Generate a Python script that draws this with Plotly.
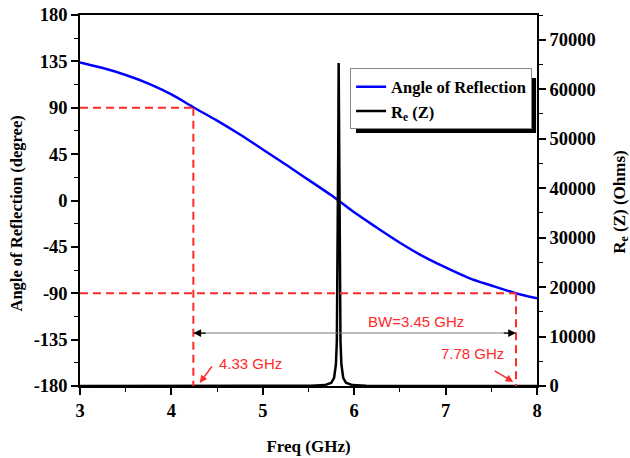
import plotly.graph_objects as go

# Angle of reflection vs frequency
freq_angle = [3.0, 3.25, 3.5, 3.75, 4.0, 4.25, 4.5, 4.75, 5.0, 5.25, 5.5, 5.75,
              6.0, 6.25, 6.5, 6.75, 7.0, 7.25, 7.5, 7.75, 8.0]
angle_deg = [134, 128.5, 121.8, 113.5, 103, 90, 77.5, 64, 49.5, 35, 20, 5,
             -11.5, -26.5, -41, -54, -65, -75, -82.5, -89.5, -95]

# Real part of impedance (narrow resonance)
freq_re = [3.0, 5.4, 5.53, 5.68, 5.75, 5.78, 5.80, 5.81, 5.82, 5.825, 5.83,
           5.835, 5.84, 5.85, 5.86, 5.88, 5.91, 5.98, 6.13, 8.0]
re_z = [10, 30, 46, 185, 650, 1630, 4350, 9000, 25500, 47000, 65300,
        47000, 25500, 9000, 4350, 1630, 650, 185, 46, 10]

# Axis ticks
angle_ticks = [-180, -135, -90, -45, 0, 45, 90, 135, 180]
angle_ticktext = ["-180", "-135", "-90", "-45", "0", "45", "90", "135", "180"]
re_ticks = [0, 10000, 20000, 30000, 40000, 50000, 60000, 70000]
re_ticktext = ["0", "10000", "20000", "30000", "40000", "50000", "60000", "70000"]

# Bandwidth markers
f_low, f_high = 4.24, 7.77
angle_levels = [90, -90]
bw_arrow_angle = -128.6
label_bw = "BW=3.45 GHz"
label_low = "4.33 GHz"
label_high = "7.78 GHz"

red = "#ff2a2a"
serif = "Liberation Serif"
sans = "Liberation Sans"

fig = go.Figure()
fig.add_trace(go.Scatter(x=freq_angle, y=angle_deg, mode="lines", line=dict(color="#0000ff", width=2.5, shape="spline"),
                         name="Angle of Reflection", yaxis="y"))
fig.add_trace(go.Scatter(x=freq_re, y=re_z, mode="lines", line=dict(color="black", width=2.5),
                         name="R<sub>e</sub> (Z)", yaxis="y2"))

dash = dict(color=red, width=2, dash="8px,5px")
fig.add_shape(type="line", xref="x", yref="y", x0=3, x1=f_low, y0=angle_levels[0], y1=angle_levels[0], line=dash)
fig.add_shape(type="line", xref="x", yref="y", x0=f_low, x1=f_low, y0=angle_levels[0], y1=-180, line=dash)
fig.add_shape(type="line", xref="x", yref="y", x0=3, x1=f_high, y0=angle_levels[1], y1=angle_levels[1], line=dash)
fig.add_shape(type="line", xref="x", yref="y", x0=f_high, x1=f_high, y0=angle_levels[1], y1=-180, line=dash)
fig.add_shape(type="line", xref="x", yref="y", x0=f_low, x1=f_high, y0=bw_arrow_angle, y1=bw_arrow_angle,
              line=dict(color="#777777", width=1))

# legend shadow
fig.add_shape(type="rect", xref="paper", yref="paper", x0=0.604, x1=0.998, y0=0.682, y1=0.830,
              fillcolor="black", line=dict(width=0), layer="above")

# double arrow heads
for tip, tail in [(f_low, f_low + 0.15), (f_high, f_high - 0.15)]:
    fig.add_annotation(x=tip, y=bw_arrow_angle, ax=tail, ay=bw_arrow_angle, axref="x", ayref="y",
                       xref="x", yref="y", showarrow=True, arrowhead=2, arrowsize=1.3, arrowwidth=1.2,
                       arrowcolor="black", text="")

fig.add_annotation(x=6.68, y=-117.5, text=label_bw, showarrow=False, font=dict(family=sans, size=15, color=red))
fig.add_annotation(x=4.86, y=-157.7, text=label_low, showarrow=False, font=dict(family=sans, size=15, color=red))
fig.add_annotation(x=7.29, y=-148, text=label_high, showarrow=False, font=dict(family=sans, size=15, color=red))
fig.add_annotation(x=4.31, y=-177, ax=4.455, ay=-159.6, axref="x", ayref="y", xref="x", yref="y",
                   text="", showarrow=True, arrowhead=2, arrowsize=1, arrowwidth=1.5, arrowcolor=red)
fig.add_annotation(x=7.74, y=-176, ax=7.52, ay=-164.5, axref="x", ayref="y", xref="x", yref="y",
                   text="", showarrow=True, arrowhead=2, arrowsize=1, arrowwidth=1.5, arrowcolor=red)

tickfont = dict(family=serif, size=18.5, color="black", weight="bold")
titlefont = dict(family=serif, size=17, color="black", weight="bold")

# axis titles as positioned annotations
fig.add_annotation(text="Angle of Reflection (degree)", textangle=-90, xref="paper", yref="paper",
                   x=-0.14, y=0.465, xanchor="center", yanchor="middle", showarrow=False,
                   font=dict(family=serif, size=16.5, color="black", weight="bold"))
fig.add_annotation(text="R<sub>e</sub> (Z) (Ohms)", textangle=-90, xref="paper", yref="paper",
                   x=1.182, y=0.497, xanchor="center", yanchor="middle", showarrow=False, font=titlefont)

fig.update_layout(
    width=630, height=458,
    margin=dict(l=80, r=93, t=15, b=72),
    plot_bgcolor="white", paper_bgcolor="white",
    showlegend=True,
    legend=dict(x=0.591, y=0.856, xanchor="left", yanchor="top", bgcolor="white",
                bordercolor="#888888", borderwidth=1, font=dict(family=serif, size=16.5, color="black", weight="bold"),
                tracegroupgap=0, itemwidth=30),
    xaxis=dict(range=[3, 8], dtick=1, showline=True, linecolor="black", linewidth=1.5, mirror=True,
               automargin=False,
               ticks="outside", ticklen=7, tickwidth=1.5, tickcolor="black", showgrid=False, zeroline=False,
               minor=dict(dtick=0.5, ticks="outside", ticklen=4, tickcolor="black", tickwidth=1.2),
               tickfont=tickfont, title=dict(text="Freq (GHz)", font=titlefont, standoff=20)),
    yaxis=dict(range=[-180, 180], tickvals=angle_ticks, ticktext=angle_ticktext, showline=True, linecolor="black",
               automargin=False,
               linewidth=1.5, ticks="outside", ticklen=7, tickwidth=1.5, tickcolor="black", showgrid=False,
               zeroline=False,
               minor=dict(dtick=22.5, ticks="outside", ticklen=4, tickcolor="black", tickwidth=1.2),
               tickfont=tickfont),
    yaxis2=dict(range=[0, 75000], tickvals=re_ticks, ticktext=re_ticktext, overlaying="y", side="right",
                showline=True, linecolor="black", automargin=False,
                linewidth=1.5, ticks="outside", ticklen=7, tickwidth=1.5, tickcolor="black", showgrid=False,
                zeroline=False, minor=dict(dtick=5000, ticks="outside", ticklen=4, tickcolor="black", tickwidth=1.2),
                tickfont=tickfont),
)

fig.write_html("out.html")
